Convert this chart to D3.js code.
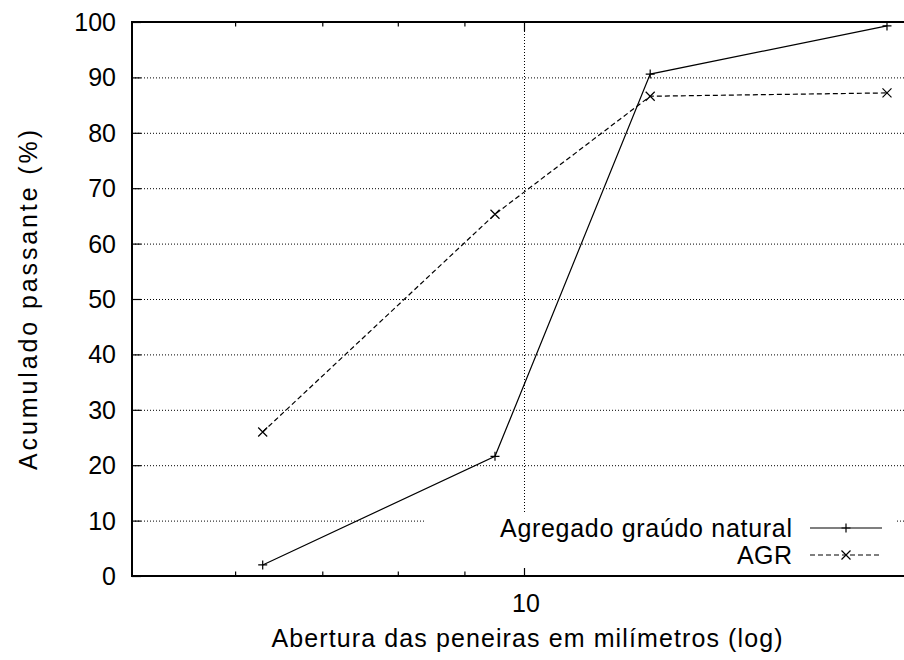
<!DOCTYPE html>
<head>
 <script src="https://cdn.jsdelivr.net/npm/d3@7"></script>
 <style>
   body { margin: 0; background: #fff; }
   text { font-family: "Liberation Sans", Arial, sans-serif; fill: #000; }
 </style>
</head>
<body>
 <div id="chart"></div>
</body>
<script type="text/javascript">
 // peneiras (mm) e % acumulado passante
 var sieves = [6.3, 9.5, 12.5, 19];
 var natural = [2, 21.6, 90.6, 99.3];
 var agr = [26, 65.3, 86.6, 87.2];
 var seriesNames = ["Agregado graúdo natural", "AGR"];
 var yTicks = [0, 10, 20, 30, 40, 50, 60, 70, 80, 90, 100];
 var xMajor = [10];
 var xMinor = [6, 7, 8, 9, 20];

 var props = {
   width: 904,
   height: 660,
   left: 132,
   right: 916,
   top: 22,
   bottom: 576,
   fontSize: "25px"
 }

 var svg = d3.select("#chart").append("svg").attr("width", props.width).attr("height", props.height);

 var x = d3.scaleLog().domain([5, 20]).range([props.left, props.right]);
 var y = d3.scaleLinear().domain([0, 100]).range([props.bottom, props.top]);

 // grade pontilhada
 svg.append("g").selectAll("line")
   .data(yTicks.filter(function(d){ return d > 0 && d < 100; }))
   .enter()
   .append("line")
   .attr("x1", props.left)
   .attr("x2", props.right)
   .attr("y1", function(d){ return y(d) + 0.5; })
   .attr("y2", function(d){ return y(d) + 0.5; })
   .style("stroke", "#000")
   .style("stroke-width", 1)
   .style("stroke-dasharray", "1,2");

 svg.append("g").selectAll("line")
   .data(xMajor)
   .enter()
   .append("line")
   .attr("x1", function(d){ return Math.round(x(d)) + 0.5; })
   .attr("x2", function(d){ return Math.round(x(d)) + 0.5; })
   .attr("y1", props.top)
   .attr("y2", props.bottom)
   .style("stroke", "#000")
   .style("stroke-width", 1)
   .style("stroke-dasharray", "1,2");

 // eixos (ticks para dentro, espelhados)
 var yAxisL = d3.axisRight(y).tickValues(yTicks).tickSize(9).tickFormat("");
 var yAxisR = d3.axisLeft(y).tickValues(yTicks).tickSize(9).tickFormat("");
 svg.append("g").attr("transform", "translate(" + props.left + ",0)").call(yAxisL);
 svg.append("g").attr("transform", "translate(" + props.right + ",0)").call(yAxisR);

 var xMajB = d3.axisTop(x).tickValues(xMajor).tickSize(9).tickFormat("");
 var xMinB = d3.axisTop(x).tickValues(xMinor).tickSize(4.5).tickFormat("");
 var xMajT = d3.axisBottom(x).tickValues(xMajor).tickSize(9).tickFormat("");
 var xMinT = d3.axisBottom(x).tickValues(xMinor).tickSize(4.5).tickFormat("");
 svg.append("g").attr("transform", "translate(0," + props.bottom + ")").call(xMajB);
 svg.append("g").attr("transform", "translate(0," + props.bottom + ")").call(xMinB);
 svg.append("g").attr("transform", "translate(0," + props.top + ")").call(xMajT);
 svg.append("g").attr("transform", "translate(0," + props.top + ")").call(xMinT);
 svg.selectAll(".domain").remove();
 svg.selectAll(".tick line").style("stroke", "#000").style("stroke-width", 1.2);

 // rótulos
 svg.append("g").selectAll("text")
   .data(yTicks)
   .enter()
   .append("text")
   .attr("x", 116)
   .attr("y", function(d){ return y(d) + 9; })
   .attr("text-anchor", "end")
   .style("font-size", props.fontSize)
   .text(function(d){ return d; });

 svg.append("g").selectAll("text")
   .data(xMajor)
   .enter()
   .append("text")
   .attr("x", function(d){ return x(d) + 2; })
   .attr("y", 612)
   .attr("text-anchor", "middle")
   .style("font-size", props.fontSize)
   .text(function(d){ return d; });

 svg.append("text")
   .attr("x", 527)
   .attr("y", 647)
   .attr("text-anchor", "middle")
   .attr("textLength", 511)
   .attr("lengthAdjust", "spacing")
   .style("font-size", props.fontSize)
   .text("Abertura das peneiras em milímetros (log)");

 svg.append("text")
   .attr("transform", "translate(37,300) rotate(-90)")
   .attr("text-anchor", "middle")
   .attr("textLength", 340)
   .attr("lengthAdjust", "spacing")
   .style("font-size", props.fontSize)
   .text("Acumulado passante (%)");

 // legenda com fundo opaco
 svg.append("rect")
   .attr("x", 425)
   .attr("y", 513)
   .attr("width", 472)
   .attr("height", 55)
   .style("fill", "#fff");

 var plusPath = function(cx, cy){
   var s = 4.5;
   return "M" + (cx - s) + "," + cy + "H" + (cx + s) + "M" + cx + "," + (cy - s) + "V" + (cy + s);
 }
 var crossPath = function(cx, cy){
   var s = 4.5;
   return "M" + (cx - s) + "," + (cy - s) + "L" + (cx + s) + "," + (cy + s) +
          "M" + (cx - s) + "," + (cy + s) + "L" + (cx + s) + "," + (cy - s);
 }

 var series = [
   {name: seriesNames[0], values: natural, dash: null, marker: plusPath, len: 292},
   {name: seriesNames[1], values: agr, dash: "5,3", marker: crossPath, len: 55}
 ];

 var line = d3.line()
   .x(function(d){ return x(d[0]); })
   .y(function(d){ return y(d[1]); });

 series.forEach(function(s, i){
   var pts = sieves.map(function(v, j){ return [v, s.values[j]]; });
   svg.append("path")
     .attr("d", line(pts))
     .style("fill", "none")
     .style("stroke", "#000")
     .style("stroke-width", 1.2)
     .style("stroke-dasharray", s.dash);
   svg.append("g").selectAll("path")
     .data(pts)
     .enter()
     .append("path")
     .attr("d", function(d){ return s.marker(x(d[0]), y(d[1])); })
     .style("fill", "none")
     .style("stroke", "#000")
     .style("stroke-width", 1.2);

   var ly = 528 + i * 27;
   svg.append("text")
     .attr("x", 792)
     .attr("y", ly + 9)
     .attr("text-anchor", "end")
     .attr("textLength", s.len)
     .attr("lengthAdjust", "spacing")
     .style("font-size", props.fontSize)
     .text(s.name);
   svg.append("line")
     .attr("x1", 810)
     .attr("x2", 882)
     .attr("y1", ly)
     .attr("y2", ly)
     .style("stroke", "#000")
     .style("stroke-width", 1.2)
     .style("stroke-dasharray", s.dash);
   svg.append("path")
     .attr("d", s.marker(846, ly))
     .style("fill", "none")
     .style("stroke", "#000")
     .style("stroke-width", 1.2);
 });

 // moldura
 svg.append("rect")
   .attr("x", props.left)
   .attr("y", props.top)
   .attr("width", props.right - props.left)
   .attr("height", props.bottom - props.top)
   .style("fill", "none")
   .style("stroke", "#000")
   .style("stroke-width", 2);
</script>
